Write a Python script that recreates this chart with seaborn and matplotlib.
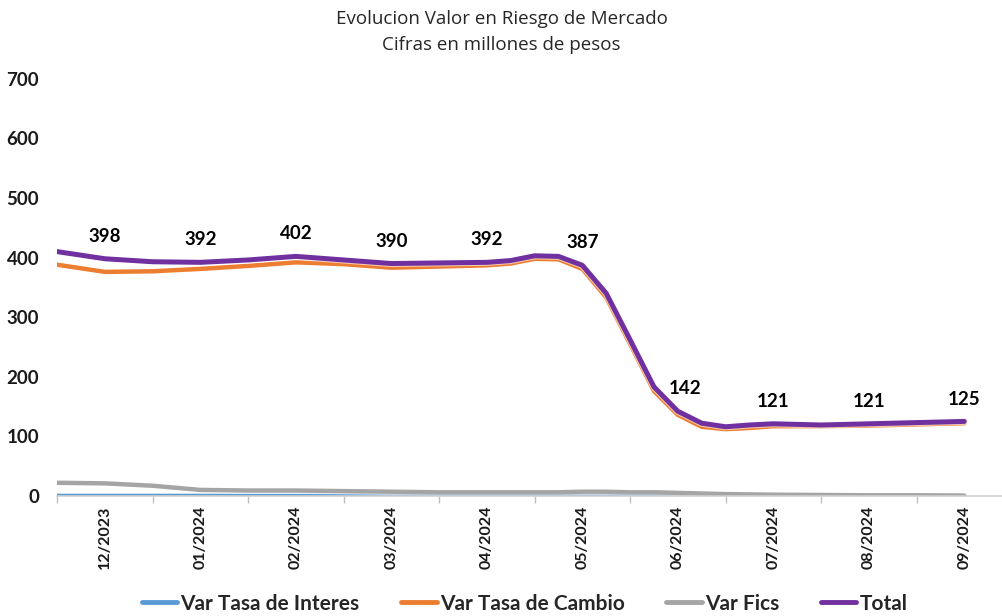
import numpy as np
import pandas as pd
import matplotlib
matplotlib.use("Agg")
import matplotlib.pyplot as plt
import matplotlib.patheffects as pe
import seaborn as sns

# ---- data ----
months = ["12/2023", "01/2024", "02/2024", "03/2024", "04/2024",
          "05/2024", "06/2024", "07/2024", "08/2024", "09/2024"]
positions = [-0.5, 0.0, 0.5, 1.0, 1.5, 2.0, 2.5, 3.0, 3.5, 4.0, 4.25,
             4.5, 4.75, 5.0, 5.25, 5.5, 5.75, 6.0, 6.25, 6.5, 6.75,
             7.0, 7.5, 8.0, 8.5, 9.0]
var_tasa_interes = [0.4, 0.4, 0.4, 0.4, 0.4, 0.4, 0.4, 0.4, 0.4, 0.4, 0.4,
                    0.4, 0.4, 0.4, 0.4, 0.4, 0.4, 0.4, 0.4, 0.3, 0.3,
                    0.3, 0.3, 0.3, 0.3, 0.3]
var_tasa_cambio = [388, 376, 377, 381, 386, 392, 389, 383, 385, 387, 390,
                   398, 397, 381, 333, 255, 176, 136, 116, 112, 114,
                   117, 117, 118, 120, 122]
var_fics = [22, 21, 17, 10, 9, 9, 8, 7, 6, 6, 6,
            6, 6, 7, 7, 6, 6, 5, 4, 3, 2.5,
            2, 1.5, 1, 1, 0.5]
total = [410, 398, 393, 392, 396, 402, 396, 390, 391, 392, 395,
         403, 402, 387, 340, 262, 183, 142, 122, 116, 119,
         121, 119, 121, 123, 125]
label_values = [398, 392, 402, 390, 392, 387, 142, 121, 121, 125]

series_names = ["Var Tasa de Interes", "Var Tasa de Cambio", "Var Fics", "Total"]
colors = ["#5B9BD5", "#ED7D31", "#A5A5A5", "#7030A0"]

df = pd.DataFrame({
    "pos": positions * 4,
    "value": var_tasa_interes + var_tasa_cambio + var_fics + total,
    "serie": sum([[n] * len(positions) for n in series_names], []),
})

sns.set_theme(style="white")
plt.rcParams["font.family"] = ["Lato", "DejaVu Sans"]

fig = plt.figure(figsize=(10.03, 6.16), dpi=100)
ax = fig.add_axes([0.057, 0.195, 0.952, 0.677])

widths = {"Var Tasa de Interes": 2.8, "Var Tasa de Cambio": 3.2,
          "Var Fics": 3.2, "Total": 3.6}
sns.lineplot(data=df, x="pos", y="value", hue="serie", hue_order=series_names,
             palette=colors, ax=ax, legend=True, sort=True)
for line, name in zip(ax.lines, series_names):
    line.set_linewidth(widths[name])
    line.set_solid_joinstyle("round")
    line.set_solid_capstyle("round")
    line.set_path_effects([pe.Stroke(linewidth=widths[name] + 1.5, foreground="white", alpha=0.6),
                           pe.Normal()])

# data labels for Total
for i, v in enumerate(label_values):
    ax.annotate(str(v), (i, v), xytext=(5 if i == 6 else 0, 10), textcoords="offset points",
                ha="center", va="bottom",
                fontsize=13.5, fontweight="bold", color="black")

ax.set_xlim(-0.5, 9.5)
ax.set_ylim(0, 700)
ax.set_yticks(range(0, 701, 100))
ax.set_yticklabels([str(v) for v in range(0, 701, 100)], fontsize=13.5,
                   fontweight="bold", color="#1a1a1a")
ax.set_xticks(range(len(months)))
ax.set_xticklabels(months, rotation=90, fontsize=11.5, fontweight="bold", color="#1a1a1a")
ax.set_xticks(np.arange(-0.5, 9.5, 1.0), minor=True)
ax.tick_params(axis="x", which="major", length=0, pad=7)
ax.tick_params(axis="x", which="minor", length=5, width=1, color="#BFBFBF", direction="out", bottom=True)
ax.tick_params(axis="y", length=0, pad=13)
ax.set_xlabel("")
ax.set_ylabel("")
ax.grid(False)
for s in ["top", "right", "left"]:
    ax.spines[s].set_visible(False)
ax.spines["bottom"].set_color("#D0D0D0")
ax.spines["bottom"].set_linewidth(1.2)

handles, labels = ax.get_legend_handles_labels()
ax.legend_.remove()
for h in handles:
    h.set_linewidth(3.5)
fig.legend(handles, labels, loc="center", bbox_to_anchor=(0.523, 0.02), ncol=4,
           frameon=False, handlelength=1.7, handletextpad=0.15, columnspacing=2.0,
           prop={"family": ["Lato", "DejaVu Sans"], "weight": "bold", "size": 15})

fig.text(0.5, 0.969, "Evolucion Valor en Riesgo de Mercado", ha="center", va="center",
         fontsize=13.5, color="#262626", family=["Open Sans", "DejaVu Sans"])
fig.text(0.5, 0.927, "Cifras en millones de pesos", ha="center", va="center",
         fontsize=13.5, color="#262626", family=["Open Sans", "DejaVu Sans"])

fig.savefig("out.png", dpi=100)
